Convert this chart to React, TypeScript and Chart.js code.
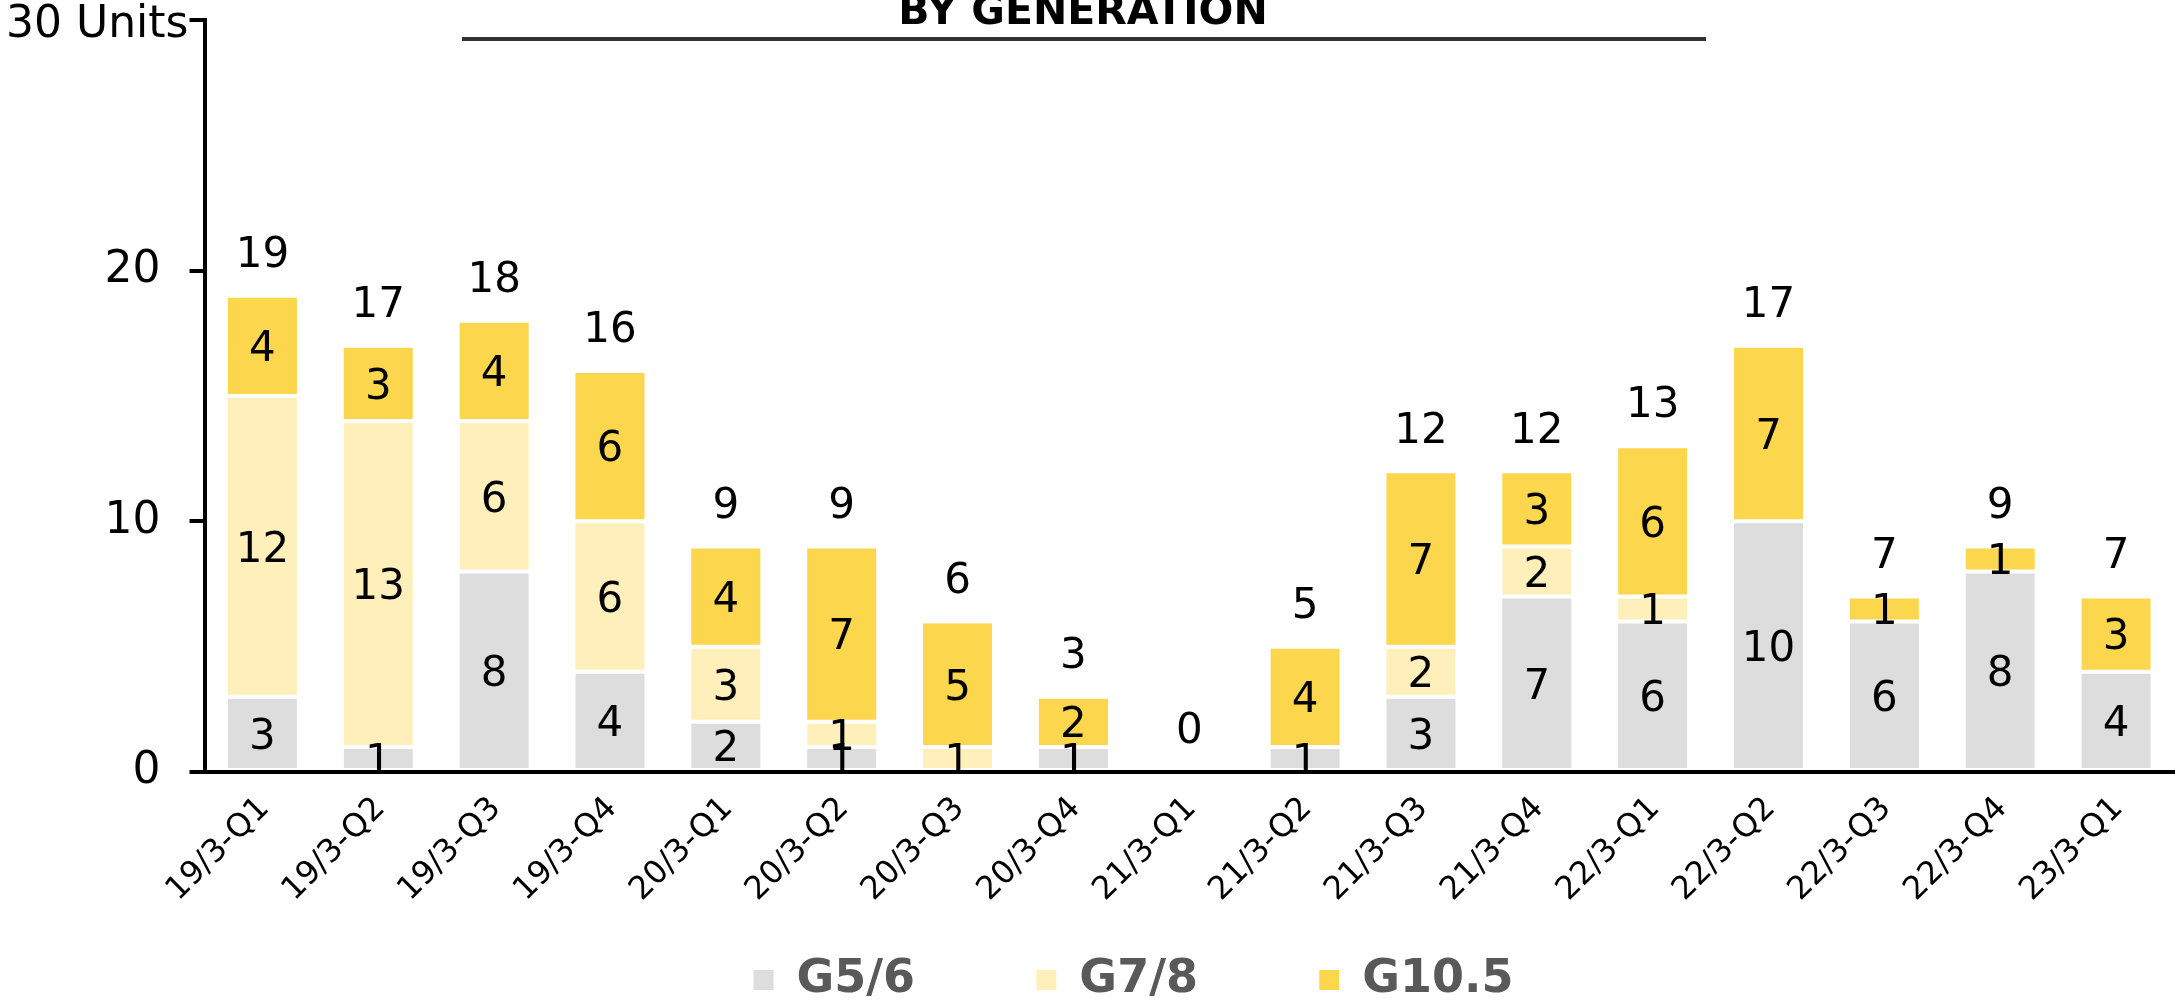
import { useEffect, useRef } from 'react';
import { Chart, registerables } from 'chart.js';

Chart.register(...registerables);

const categories = [
  '19/3-Q1', '19/3-Q2', '19/3-Q3', '19/3-Q4',
  '20/3-Q1', '20/3-Q2', '20/3-Q3', '20/3-Q4',
  '21/3-Q1', '21/3-Q2', '21/3-Q3', '21/3-Q4',
  '22/3-Q1', '22/3-Q2', '22/3-Q3', '22/3-Q4',
  '23/3-Q1',
];
const seriesNames = ['G5/6', 'G7/8', 'G10.5'];
const g56Values = [3, 1, 8, 4, 2, 1, 0, 1, 0, 1, 3, 7, 6, 10, 6, 8, 4];
const g78Values = [12, 13, 6, 6, 3, 1, 1, 0, 0, 0, 2, 2, 1, 0, 0, 0, 0];
const g105Values = [4, 3, 4, 6, 4, 7, 5, 2, 0, 4, 7, 3, 6, 7, 1, 1, 3];
const seriesColors = ['#DDDDDD', '#FFF0BB', '#FCD64C'];
const yMax = 30;
const yStep = 10;
const yUnit = 'Units';
const chartTitle = 'BY GENERATION';

const FONT = "'DejaVu Sans', Verdana, sans-serif";
const PLOT_BOTTOM = 772;

const dataLabels = {
  id: 'dataLabels',
  afterDatasetsDraw(chart: any) {
    const { ctx } = chart;
    const size = 42;
    const capHalf = (size * 0.729) / 2;
    ctx.save();
    ctx.font = `${size}px ${FONT}`;
    ctx.fillStyle = '#000';
    ctx.textAlign = 'center';
    ctx.textBaseline = 'alphabetic';
    chart.data.datasets.forEach((ds: any, di: number) => {
      const meta = chart.getDatasetMeta(di);
      meta.data.forEach((el: any, i: number) => {
        const v = ds.data[i];
        if (!v) return;
        const { x, y, base } = el.getProps(['x', 'y', 'base'], true);
        ctx.fillText(String(v), x, (y + base) / 2 + capHalf);
      });
    });
    const yScale = chart.scales.y;
    const meta0 = chart.getDatasetMeta(0);
    categories.forEach((_, i) => {
      const total = chart.data.datasets.reduce((s: number, ds: any) => s + (ds.data[i] as number), 0);
      const x = meta0.data[i].x;
      const yTop = yScale.getPixelForValue(total);
      ctx.fillText(String(total), x, yTop - 44 + capHalf);
    });
    ctx.restore();
  },
};

const topTitle = {
  id: 'topTitle',
  afterDraw(chart: any) {
    const { ctx } = chart;
    ctx.save();
    ctx.font = `bold 41px ${FONT}`;
    ctx.fillStyle = '#000';
    ctx.textAlign = 'center';
    ctx.textBaseline = 'alphabetic';
    ctx.fillText(chartTitle, 1083, 24);
    ctx.strokeStyle = '#333';
    ctx.lineWidth = 4;
    ctx.beginPath();
    ctx.moveTo(462, 39);
    ctx.lineTo(1706, 39);
    ctx.stroke();
    ctx.restore();
  },
};

const legendShift = {
  id: 'legendShift',
  afterLayout(chart: any) {
    const lg = chart.legend;
    if (lg) {
      lg.left = 93;
      lg.top += 13;
      lg.bottom += 13;
    }
  },
};

export default function App() {
  const ref = useRef<HTMLCanvasElement>(null);

  useEffect(() => {
    document.body.style.margin = '0';
    const values = [g56Values, g78Values, g105Values];
    const chart = new Chart(ref.current as HTMLCanvasElement, {
      type: 'bar',
      data: {
        labels: categories,
        datasets: seriesNames.map((name, i) => ({
          label: name,
          data: values[i],
          backgroundColor: seriesColors[i],
          borderColor: '#FFFFFF',
          borderWidth: 2,
          borderSkipped: false,
          barPercentage: 0.63,
          categoryPercentage: 1,
        })),
      },
      options: {
        responsive: false,
        animation: false,
        devicePixelRatio: 1,
        layout: { padding: { left: 0, right: 5, top: 20, bottom: 0 } },
        scales: {
          x: {
            stacked: true,
            grid: { display: false, drawTicks: false },
            border: { display: true, color: '#000', width: 4 },
            ticks: {
              font: { family: FONT, size: 32 },
              color: '#000',
              maxRotation: 45,
              minRotation: 45,
              autoSkip: false,
              padding: 18,
              labelOffset: 2,
            },
            afterFit(scale: any) {
              const lgH = scale.chart.legend ? scale.chart.legend.height : 48;
              scale.height = scale.chart.height - lgH - PLOT_BOTTOM;
            },
          },
          y: {
            stacked: true,
            min: 0,
            max: yMax,
            ticks: {
              stepSize: yStep,
              font: (ctx: any) => ({
                family: FONT,
                size: 44,
                lineHeight: ctx.tick && ctx.tick.value === yMax ? 0.27 : 0.8,
              }),
              color: '#000',
              padding: 1,
              callback: (value: any) => (value === yMax ? ['', `${value} ${yUnit}`] : `${value}  `),
            },
            grid: {
              display: true,
              drawOnChartArea: false,
              drawTicks: true,
              tickLength: 15,
              tickWidth: 4,
              tickColor: '#000',
              color: '#000',
              lineWidth: 4,
            },
            border: { display: true, color: '#000', width: 4 },
            afterFit(scale: any) {
              scale.width = 204.5;
            },
          },
        },
        plugins: {
          title: { display: false },
          tooltip: { enabled: false },
          legend: {
            position: 'bottom',
            labels: {
              font: { family: FONT, size: 46, weight: 'bold', lineHeight: 1 },
              color: '#595959',
              boxWidth: 20,
              boxHeight: 20,
              padding: 0,
              generateLabels(ch: any) {
                const items = (Chart.defaults.plugins.legend.labels as any).generateLabels(ch);
                return items.map((it: any, i: number) => ({
                  ...it,
                  text: i < items.length - 1 ? it.text + '       \u2009' : it.text,
                  lineWidth: 0,
                  strokeStyle: 'rgba(0,0,0,0)',
                }));
              },
            },
          },
        },
      },
      plugins: [dataLabels, topTitle, legendShift],
    } as any);
    return () => chart.destroy();
  }, []);

  return (
    <div style={{ width: 2179, height: 1000 }}>
      <canvas ref={ref} width={2179} height={1000} style={{ display: 'block' }} />
    </div>
  );
}
